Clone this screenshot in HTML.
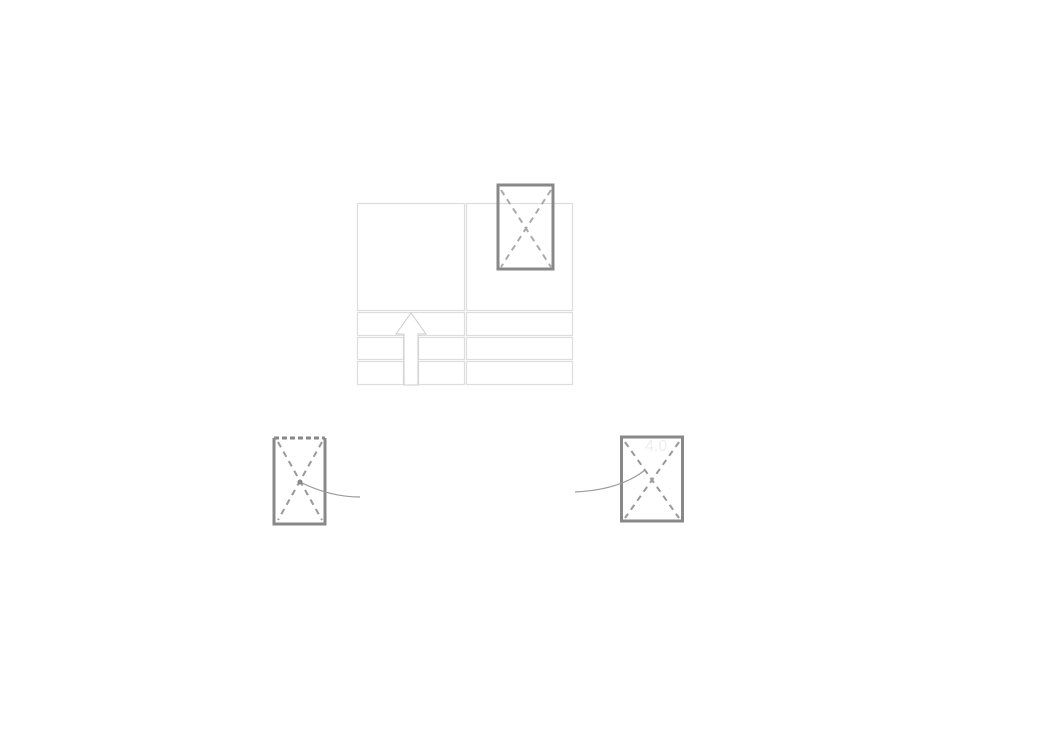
<!DOCTYPE html>
<html><head><style>body{margin:0;background:#fff}</style></head><body>
<svg width="1048" height="745" xmlns="http://www.w3.org/2000/svg">
<rect width="1048" height="745" fill="#fff"/>
<g fill="none" stroke="#ddd" stroke-width="1.2">
<rect x="357.5" y="203.5" width="107" height="107"/>
<rect x="466.5" y="203.5" width="106" height="107"/>
<rect x="357.5" y="312.5" width="107" height="23"/>
<rect x="466.5" y="312.5" width="106" height="23"/>
<rect x="357.5" y="337.5" width="46" height="22"/>
<rect x="418.5" y="337.5" width="46" height="22"/>
<rect x="466.5" y="337.5" width="106" height="22"/>
<rect x="357.5" y="361.5" width="46" height="23"/>
<rect x="418.5" y="361.5" width="46" height="23"/>
<rect x="466.5" y="361.5" width="106" height="23"/>
</g>
<polygon points="411,313 396,334 404,334 404,385 418,385 418,334 426,334" fill="#fff" stroke="#ccc" stroke-width="1"/>
<g fill="none">
<rect x="498" y="185" width="55" height="84" stroke="#888" stroke-width="3"/>
<path d="M501 190 L551 267 M551 190 L501 267" stroke="#aaa" stroke-width="2" stroke-dasharray="6 5"/>
<path d="M274 438 V524 H325 V438" stroke="#888" stroke-width="3"/>
<path d="M274 438 H325" stroke="#888" stroke-width="3" stroke-dasharray="5 3"/>
<path d="M278 442 L322 520 M322 442 L278 520" stroke="#999" stroke-width="2" stroke-dasharray="6 5"/>
<path d="M300 482 Q330 497 360 497" stroke="#999" stroke-width="1.2"/>
<circle cx="300" cy="482" r="2.5" fill="#888"/>
<rect x="621.5" y="437" width="61" height="84" stroke="#888" stroke-width="3"/>
<path d="M625 442 L679 518 M679 442 L625 518" stroke="#999" stroke-width="2" stroke-dasharray="6 5"/>
<path d="M575 492 Q620 490 645 470" stroke="#999" stroke-width="1.2"/>
</g>
<text x="645" y="451" font-family="Liberation Sans, sans-serif" font-size="16" fill="#eee">4.0</text>
</svg>
</body></html>
